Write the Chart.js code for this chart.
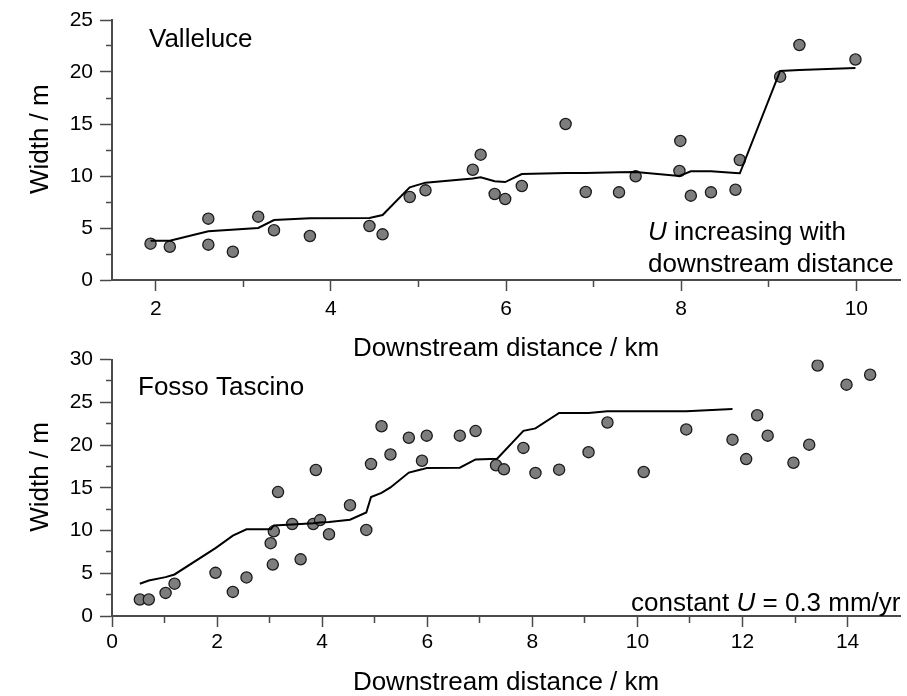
<!DOCTYPE html>
<html>
<head>
<meta charset="utf-8">
<script src="https://cdn.jsdelivr.net/npm/chart.js@4"></script>
<style>
  html, body { margin: 0; padding: 0; background: #fff; }
  #wrap { position: relative; width: 907px; height: 696px; overflow: hidden; }
  canvas { position: absolute; left: 0; }
  #topChart { top: 0; }
  #bottomChart { top: 340px; }
</style>
</head>
<body>
<div id="wrap">
  <canvas id="topChart" width="907" height="362"></canvas>
  <canvas id="bottomChart" width="907" height="356"></canvas>
</div>
<script>
// Valleluce: measured channel widths
const valDistKm = [1.94, 2.16, 2.60, 2.60, 2.88, 3.17, 3.35, 3.76, 4.44, 4.59, 4.90, 5.08, 5.62, 5.71, 5.87,
  5.99, 6.18, 6.68, 6.91, 7.29, 7.48, 7.99, 7.98, 8.11, 8.34, 8.62, 8.67, 9.13, 9.35, 9.99];
const valWidthM = [3.49, 3.20, 5.90, 3.40, 2.72, 6.09, 4.78, 4.23, 5.19, 4.39, 7.98, 8.62, 10.60, 12.05, 8.27,
  7.79, 9.04, 15.00, 8.46, 8.43, 9.97, 13.37, 10.48, 8.11, 8.43, 8.68, 11.54, 19.55, 22.60, 21.20];
// Valleluce: model width
const valModelKm = [1.94, 2.16, 2.60, 3.17, 3.35, 3.76, 4.44, 4.59, 4.90, 5.08, 5.62, 5.71, 5.87, 5.99, 6.18,
  6.68, 6.91, 7.29, 7.48, 7.98, 8.11, 8.34, 8.62, 8.67, 9.13, 9.35, 9.99];
const valModelW = [3.78, 3.78, 4.68, 5.00, 5.77, 5.93, 5.96, 6.25, 8.91, 9.36, 9.75, 9.88, 9.50, 9.42, 10.19,
  10.28, 10.30, 10.35, 10.38, 10.00, 10.45, 10.45, 10.30, 10.26, 20.10, 20.20, 20.38];

// Fosso Tascino: measured channel widths
const fosDistKm = [0.53, 0.70, 1.02, 1.19, 1.97, 2.30, 2.56, 3.02, 3.06, 3.08, 3.16, 3.43, 3.59, 3.83, 3.88,
  3.96, 4.13, 4.53, 4.84, 4.93, 5.13, 5.30, 5.65, 5.90, 5.99, 6.62, 6.92, 7.31, 7.46, 7.83, 8.06, 8.51, 9.07,
  9.43, 10.12, 10.93, 11.81, 12.07, 12.28, 12.48, 12.97, 13.27, 13.43, 13.98, 14.43];
const fosWidthM = [1.93, 1.93, 2.70, 3.78, 5.05, 2.82, 4.51, 8.52, 6.02, 9.91, 14.50, 10.76, 6.63, 10.76, 17.08,
  11.22, 9.56, 12.96, 10.07, 17.78, 22.20, 18.90, 20.86, 18.16, 21.10, 21.10, 21.64, 17.64, 17.16, 19.67, 16.74,
  17.12, 19.17, 22.64, 16.85, 21.83, 20.63, 18.36, 23.49, 21.10, 17.93, 20.05, 29.31, 27.07, 28.23];
// Fosso Tascino: model width
const fosModelKm = [0.53, 0.70, 1.02, 1.19, 1.97, 2.30, 2.56, 3.02, 3.08, 3.43, 3.83, 3.96, 4.13, 4.53, 4.84,
  4.93, 5.13, 5.30, 5.65, 5.90, 5.99, 6.62, 6.92, 7.33, 7.83, 8.06, 8.51, 9.07, 9.43, 10.93, 11.81];
const fosModelW = [3.78, 4.16, 4.55, 4.86, 7.95, 9.41, 10.14, 10.14, 10.60, 10.70, 10.85, 10.95, 11.00, 11.26, 12.11,
  13.92, 14.40, 15.04, 16.78, 17.16, 17.32, 17.35, 18.32, 18.40, 21.67, 21.95, 23.76, 23.76, 23.95, 23.95, 24.22];

// Tick values
const valXTicks = [2, 3, 4, 5, 6, 7, 8, 9, 10];
const fosXTicks = [0, 1, 2, 3, 4, 5, 6, 7, 8, 9, 10, 11, 12, 13, 14];
const valYTicks = [0, 2.5, 5, 7.5, 10, 12.5, 15, 17.5, 20, 22.5, 25];
const fosYTicks = [0, 2.5, 5, 7.5, 10, 12.5, 15, 17.5, 20, 22.5, 25, 27.5, 30];

const FONT = '"Liberation Sans", Arial, sans-serif';
const AXIS = '#4a4a4a';

Chart.defaults.font.family = FONT;
Chart.defaults.color = '#000';

function toPoints(xs, ys) {
  return xs.map((x, i) => ({ x: x, y: ys[i] }));
}

// draws the text notes inside the plots (with italic U)
const notesPlugin = {
  id: 'notes',
  afterDraw(chart, args, opts) {
    const ctx = chart.ctx;
    ctx.save();
    ctx.fillStyle = '#000';
    ctx.textBaseline = 'alphabetic';
    ctx.textAlign = 'left';
    (opts.lines || []).forEach(line => {
      let x = line.x;
      line.parts.forEach(p => {
        ctx.font = (p.italic ? 'italic ' : '') + '26px ' + FONT;
        ctx.fillText(p.text, x, line.y);
        x += ctx.measureText(p.text).width;
      });
    });
    ctx.restore();
  }
};

function makeChart(id, cfg) {
  const xAxis = {
    type: 'linear',
    min: cfg.xMin,
    max: cfg.xMax,
    afterBuildTicks: s => { s.ticks = cfg.xTicks.map(v => ({ value: v })); },
    afterFit: s => { s.height = cfg.xAxisHeight; },
    border: { color: AXIS, width: 2 },
    grid: {
      drawOnChartArea: false,
      tickLength: 11,
      tickColor: AXIS,
      tickWidth: 1.5,
      tickBorderDash: c => (c.tick && c.tick.value % 2 === 0) ? [] : [6, 40]
    },
    ticks: {
      padding: cfg.xTickPad,
      font: { size: 21 },
      color: '#000',
      maxRotation: 0,
      autoSkip: false,
      callback: v => (v % 2 === 0 ? String(v) : '')
    },
    title: {
      display: true,
      text: 'Downstream distance / km',
      font: { size: 26, lineHeight: 1 },
      padding: 0,
      color: '#000'
    }
  };
  const yAxis = {
    type: 'linear',
    min: 0,
    max: cfg.yMax,
    afterBuildTicks: s => { s.ticks = cfg.yTicks.map(v => ({ value: v })); },
    afterFit: s => { s.width = 112; },
    border: { color: AXIS, width: 2 },
    grid: {
      drawOnChartArea: false,
      tickLength: 12,
      tickColor: AXIS,
      tickWidth: 1.5,
      tickBorderDash: c => (c.tick && c.tick.value % 5 === 0) ? [] : [0, 6, 40]
    },
    ticks: {
      padding: 7,
      font: { size: 21 },
      color: '#000',
      autoSkip: false,
      callback: v => (v % 5 === 0 ? String(v) : '')
    },
    title: {
      display: true,
      text: '   Width / m',
      font: { size: 26, lineHeight: 1 },
      padding: { top: 28, bottom: 0 },
      color: '#000'
    }
  };

  return new Chart(document.getElementById(id), {
    type: 'scatter',
    data: {
      datasets: [
        {
          label: 'model',
          data: toPoints(cfg.lineX, cfg.lineY),
          showLine: true,
          borderColor: '#000',
          borderWidth: 2,
          pointRadius: 0,
          fill: false,
          tension: 0
        },
        {
          label: 'measured',
          data: toPoints(cfg.ptX, cfg.ptY),
          showLine: false,
          pointRadius: 5.6,
          pointBackgroundColor: '#7d7d7d',
          pointBorderColor: '#1a1a1a',
          pointBorderWidth: 1.3
        }
      ]
    },
    options: {
      responsive: false,
      animation: false,
      devicePixelRatio: 1,
      layout: { padding: { top: cfg.padTop, left: 0, right: 0, bottom: 0 } },
      scales: { x: xAxis, y: yAxis },
      plugins: {
        legend: { display: false },
        tooltip: { enabled: false },
        notes: { lines: cfg.notes }
      }
    },
    plugins: [notesPlugin]
  });
}

makeChart('topChart', {
  xMin: 1.5, xMax: 10.5, yMax: 25,
  xTicks: valXTicks, yTicks: valYTicks,
  xAxisHeight: 82, xTickPad: 6, padTop: 20,
  ptX: valDistKm, ptY: valWidthM, lineX: valModelKm, lineY: valModelW,
  notes: [
    { x: 149, y: 47, parts: [{ text: 'Valleluce' }] },
    { x: 648, y: 240, parts: [{ text: 'U', italic: true }, { text: ' increasing with' }] },
    { x: 648, y: 272, parts: [{ text: 'downstream distance' }] }
  ]
});

makeChart('bottomChart', {
  xMin: 0, xMax: 15, yMax: 30,
  xTicks: fosXTicks, yTicks: fosYTicks,
  xAxisHeight: 80, xTickPad: 3, padTop: 17,
  ptX: fosDistKm, ptY: fosWidthM, lineX: fosModelKm, lineY: fosModelW,
  notes: [
    { x: 138, y: 55, parts: [{ text: 'Fosso Tascino' }] },
    { x: 631, y: 271, parts: [{ text: 'constant ' }, { text: 'U', italic: true }, { text: ' = 0.3 mm/yr' }] }
  ]
});
</script>
</body>
</html>
